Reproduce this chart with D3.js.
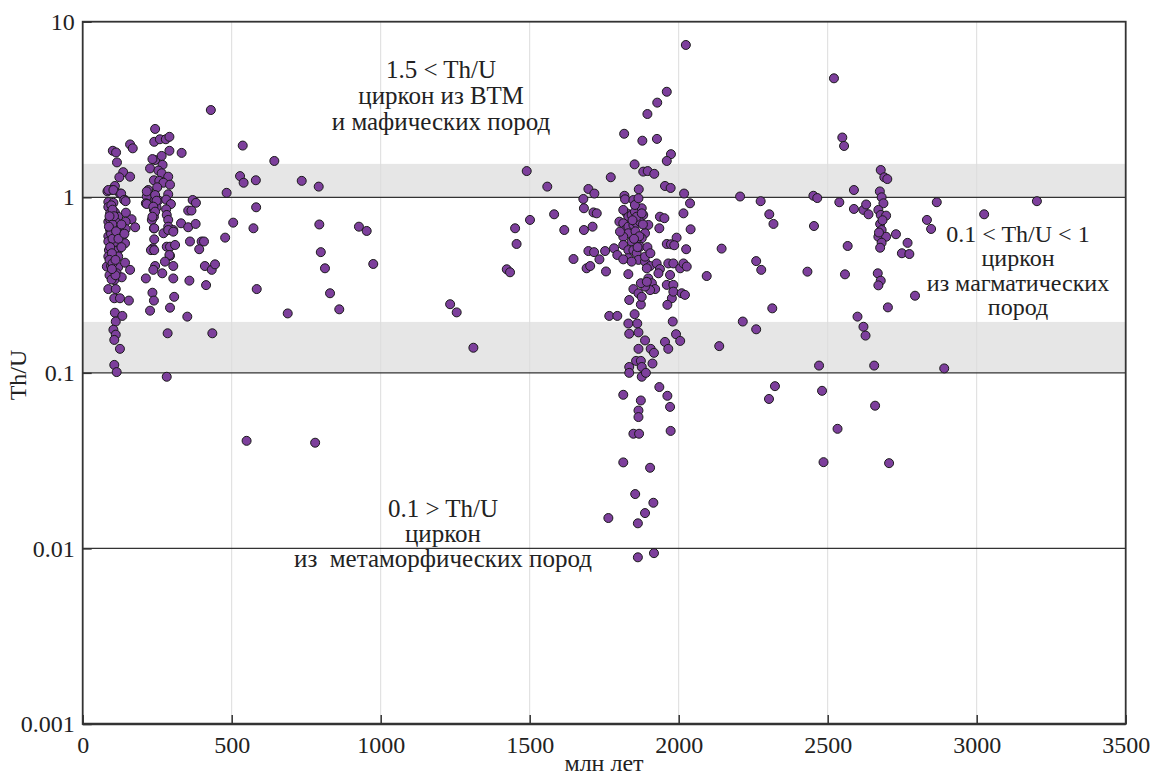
<!DOCTYPE html>
<html>
<head>
<meta charset="utf-8">
<title>Th/U vs age</title>
<style>
  body { margin: 0; background: #fff; }
  text { font-family: "Liberation Serif", "DejaVu Serif", serif; fill: #222; }
</style>
</head>
<body>
<svg width="1153" height="779"></svg>
<script src="https://cdn.jsdelivr.net/npm/d3@7"></script>
<script>
// ages (Ma) and Th/U, grouped by population
var pop100 = [[101,1.84],[112,1.80],[159,2.00],[168,1.90],[115,1.58],[136,1.39],[123,1.30],[159,1.31],[108,1.16],[97,1.10],[83,1.08],[125,1.05],[142,0.965],
  [86,1.10],[103,1.10],[129,1.05],[139,0.965],[144,0.95],[86,0.94],[103,0.93],[86,0.88],[92,0.81],[108,0.82],[119,0.775],[145,0.817],[164,0.75],[176,0.675],
  [144,0.726],[86,0.726],[114,0.717],[92,0.651],[117,0.651],[144,0.66],[86,0.60],[114,0.60],[136,0.61],[86,0.56],[106,0.547],[142,0.547],[88,0.50],[119,0.50],
  [106,0.497],[86,0.46],[119,0.46],[81,0.403],[95,0.406],[119,0.40],[142,0.424],[159,0.386],[114,0.369],[131,0.35],[106,0.338],[86,0.30],[111,0.30],[106,0.266],
  [125,0.266],[155,0.258],[108,0.22],[133,0.211],[111,0.196],[103,0.176],[111,0.165],[106,0.154],[125,0.137],[106,0.111],[114,0.101],
  [92,0.75],[100,0.70],[95,0.62],[100,0.58],[92,0.52],[98,0.48],[90,0.44],[100,0.42],[90,0.36],[97,0.34],[110,0.36],[88,0.68],[96,0.90],[100,0.85],[112,0.64],
  [105,0.78],[120,0.58],[130,0.52],[130,0.70],[140,0.62],[90,0.78],[110,0.44],[98,0.39]];

var pop250 = [[243,2.45],[240,2.07],[259,2.14],[279,2.14],[291,2.21],[291,1.84],[332,1.79],[243,1.63],[234,1.65],[265,1.72],[268,1.53],[226,1.46],[254,1.42],
  [265,1.37],[287,1.31],[239,1.25],[257,1.24],[271,1.21],[293,1.18],[250,1.14],[287,1.04],[220,1.10],[215,1.01],[212,0.924],[243,0.965],[254,0.96],[280,0.97],
  [296,0.915],[239,0.847],[248,0.875],[280,0.854],[282,0.793],[239,0.775],[232,0.743],[287,0.743],[287,0.68],[239,0.665],[304,0.651],[271,0.624],[240,0.576],
  [235,0.512],[282,0.523],[293,0.523],[310,0.535],[293,0.464],
  [215,1.08],[243,1.03],[248,0.956],[215,0.916],[237,0.884],[243,0.828],[234,0.775],[240,0.666],[287,0.651],[304,0.637],[330,0.711],[354,0.675],[379,0.705],
  [360,0.56],[229,0.50],[240,0.50],[291,0.469],[276,0.43],[243,0.406],[237,0.386],[267,0.369],[304,0.406],[212,0.345],[304,0.345],[358,0.335],[234,0.286],
  [239,0.258],[226,0.226],[307,0.271],[293,0.235],[351,0.209],[285,0.168],[282,0.095]];

var pop300to1000 = [[430,3.14],[537,1.97],[643,1.61],[528,1.32],[540,1.21],[581,1.25],[735,1.24],[792,1.15],[483,1.06],[369,0.965],[380,0.93],[582,0.877],
  [354,0.84],[365,0.84],[505,0.717],[794,0.70],[927,0.68],[953,0.643],[478,0.589],[573,0.666],[399,0.56],[407,0.56],[391,0.506],[799,0.487],[414,0.316],
  [410,0.406],[433,0.386],[444,0.415],[584,0.30],[813,0.394],[830,0.284],[861,0.23],[688,0.218],[435,0.168],[975,0.417],[550,0.041],[780,0.040]];

var pop1200to1800 = [[1233,0.246],[1255,0.221],[1311,0.139],[1423,0.389],[1434,0.374],[1451,0.666],[1456,0.542],[1501,0.743],[1490,1.41],[1559,1.15],
  [1582,0.80],[1616,0.651],[1647,0.445],[1682,0.651],[1711,0.68],[1680,0.978],[1682,0.866],[1697,1.115],[1717,1.05],[1714,0.82],[1725,0.81],[1697,0.494],
  [1716,0.487],[1734,0.443],[1691,0.394],[1703,0.406],[1756,0.378],[1753,0.494],[1783,0.512],[1772,1.30],[1767,0.211],[1794,0.211],[1794,0.469],[1764,0.0149]];

var pop1800to2100 = [[1814,0.075],[2024,7.37],[1960,3.99],[1928,3.46],[1895,2.98],[1817,2.30],[1878,2.10],[1927,2.15],[1974,1.76],[1960,1.61],[1852,1.54],
  [1881,1.40],[1896,1.41],[1918,1.36],[1954,1.16],[1973,1.13],[1866,1.11],[2018,1.05],[1818,1.02],[1820,0.974],[2038,0.924],[2016,0.81],[1937,0.775],[1952,0.76],
  [2040,0.657],[1935,0.666],[1993,0.589],[1960,0.542],[1974,0.54],[1985,0.533],[2025,0.506],[2094,0.356],[1831,0.365],[1977,0.266],
  [1834,0.26],[1873,0.245],[1962,0.244],[1852,0.216],[1831,0.191],[1861,0.191],[1834,0.167],[1865,0.17],[1980,0.196],[1887,0.153],[1954,0.15],[1991,0.166],
  [2005,0.152],[1865,0.137],[1906,0.137],[1917,0.13],[1965,0.137],[1857,0.117],[1873,0.117],[1912,0.113],[1834,0.108],[1876,0.108],[1834,0.10],[1876,0.095],
  [1890,0.10],[1935,0.083],[1962,0.074],[1873,0.0696],[1971,0.064],[1865,0.061],[1865,0.056],[1973,0.0467],[1848,0.045],[1867,0.045],[1814,0.0309],[1904,0.0288],
  [1854,0.0204],[1915,0.0182],[1887,0.0159],[1863,0.0139],[1917,0.0094],[1863,0.0089],
  [1826,0.81],[1831,0.775],[1842,0.793],[1853,0.828],[1876,0.866],[1881,0.793],[1801,0.726],[1814,0.711],[1820,0.651],[1831,0.68],[1848,0.696],[1859,0.711],
  [1870,0.726],[1898,0.696],[1887,0.624],[1876,0.584],[1859,0.571],[1842,0.56],[1831,0.624],[1814,0.596],[1803,0.637],[1814,0.535],[1831,0.50],[1848,0.50],
  [1859,0.48],[1870,0.523],[1865,0.44],[1831,0.45],[1814,0.443],[1842,0.43],[1887,0.43],[1904,0.406],[1926,0.42],[1937,0.39],[1893,0.394],[1932,0.369],
  [1965,0.42],[1982,0.42],[2005,0.394],[2016,0.42],[2027,0.403],[1971,0.361],[1898,0.345],[1910,0.324],[1921,0.30],[1904,0.296],[1887,0.31],[1960,0.317],
  [1982,0.317],[1982,0.29],[2010,0.284],[2021,0.278],[1848,0.30],[1865,0.284],[1876,0.271],[1848,0.965],[1853,0.904],[1865,0.987],[1873,0.324],[1893,0.33],
  [1887,0.459],[1814,0.847],[1859,0.775],[1876,0.81],[1855,0.64],[1845,0.74],[1868,0.60],[1880,0.70],[1862,0.52],[1850,0.58],[1895,0.52],[1905,0.48]];

var pop2100to3300 = [[2144,0.51],[2136,0.142],[2206,1.01],[2275,0.95],[2304,0.80],[2318,0.705],[2260,0.433],[2277,0.386],[2314,0.233],[2215,0.196],[2260,0.177],
  [2323,0.084],[2303,0.071],[2452,1.02],[2465,0.99],[2454,0.686],[2432,0.377],[2588,1.10],[2539,0.937],[2588,0.858],[2620,0.847],[2629,0.91],[2637,0.80],
  [2567,0.528],[2558,0.364],[2600,0.209],[2620,0.183],[2627,0.163],[2471,0.11],[2481,0.079],[2533,0.048],[2486,0.031],[2706,0.0306],[2656,0.11],[2891,0.106],
  [2521,4.76],[2549,2.19],[2555,1.96],[2678,1.43],[2690,1.30],[2700,1.27],[2675,1.08],[2681,1.0],[2687,0.924],[2670,0.847],[2678,0.793],[2696,0.786],
  [2676,0.705],[2681,0.651],[2670,0.596],[2696,0.596],[2681,0.551],[2676,0.516],[2684,0.74],[2672,0.63],[2866,0.937],[3202,0.95],[3025,0.80],[2833,0.743],
  [2847,0.66],[2729,0.616],[2768,0.55],[2749,0.48],[2774,0.475],[2793,0.275],[2702,0.236],[2668,0.369],[2678,0.335],[2670,0.315],[2659,0.065]];

var xTicks = [0, 500, 1000, 1500, 2000, 2500, 3000, 3500];
var yTicks = [0.001, 0.01, 0.1, 1, 10];
var yTickLabels = ["0.001", "0.01", "0.1", "1", "10"];
var refLines = [0.01, 0.1, 1];
var bands = [[0.1, 0.195], [1, 1.55]];

var svg = d3.select("svg");

var x = d3.scaleLinear().domain([0, 3500]).range([82.7, 1125.7]);
var y = d3.scaleLog().domain([0.001, 10]).range([724, 21.7]);

// shaded bands
svg.append("g").selectAll("rect")
  .data(bands)
  .enter().append("rect")
    .attr("x", x(0))
    .attr("width", x(3500) - x(0))
    .attr("y", function(d) { return y(d[1]); })
    .attr("height", function(d) { return y(d[0]) - y(d[1]); })
    .attr("fill", "#e6e6e6");

// vertical grid
svg.append("g").selectAll("line")
  .data(xTicks.slice(1, -1))
  .enter().append("line")
    .attr("x1", function(d) { return x(d); })
    .attr("x2", function(d) { return x(d); })
    .attr("y1", y(10))
    .attr("y2", y(0.001))
    .attr("stroke", "#dcdcdc")
    .attr("stroke-width", 1);

// horizontal reference lines
svg.append("g").selectAll("line")
  .data(refLines)
  .enter().append("line")
    .attr("x1", x(0))
    .attr("x2", x(3500))
    .attr("y1", function(d) { return y(d); })
    .attr("y2", function(d) { return y(d); })
    .attr("stroke", "#333")
    .attr("stroke-width", 1.2);

// points
var all = pop100.concat(pop250, pop300to1000, pop1200to1800, pop1800to2100, pop2100to3300);
svg.append("g").selectAll("circle")
  .data(all)
  .enter().append("circle")
    .attr("cx", function(d) { return x(d[0]); })
    .attr("cy", function(d) { return y(d[1]); })
    .attr("r", 4.5)
    .attr("fill", "#7d3f9c")
    .attr("stroke", "#1a1a1a")
    .attr("stroke-width", 1);

// annotations
function label(lines, cx, y0, step, size) {
  var t = svg.append("text")
    .attr("text-anchor", "middle")
    .attr("font-size", size);
  lines.forEach(function(s, i) {
    t.append("tspan").attr("x", cx).attr("y", y0 + i * step).text(s);
  });
}
label(["1.5 < Th/U", "циркон из ВТМ", "и мафических пород"], 441, 78, 26, 25);
label(["0.1 < Th/U < 1", "циркон", "из магматических", "пород"], 1018, 241.5, 24.5, 24);
label(["0.1 > Th/U", "циркон", "из\u00a0\u00a0метаморфических пород"], 443, 517, 25, 25);

// frame
svg.append("rect")
  .attr("x", x(0))
  .attr("y", y(10))
  .attr("width", x(3500) - x(0))
  .attr("height", y(0.001) - y(10))
  .attr("fill", "none")
  .attr("stroke", "#333")
  .attr("stroke-width", 1.8);
svg.append("line")
  .attr("x1", x(0)).attr("x2", x(3500))
  .attr("y1", y(0.001)).attr("y2", y(0.001))
  .attr("stroke", "#333").attr("stroke-width", 2.5);

// axes with inward ticks
var xAxis = svg.append("g")
  .attr("transform", "translate(0," + y(0.001) + ")")
  .call(d3.axisBottom(x).tickValues(xTicks).tickSize(-9).tickPadding(18).tickFormat(d3.format("d")));
var yAxis = svg.append("g")
  .attr("transform", "translate(" + x(0) + ",0)")
  .call(d3.axisLeft(y).tickValues(yTicks).tickSize(-9).tickPadding(18)
    .tickFormat(function(d, i) { return yTickLabels[i]; }));

[xAxis, yAxis].forEach(function(a) {
  a.select(".domain").remove();
  a.selectAll(".tick line").attr("stroke", "#333").attr("stroke-width", 1.5);
  a.selectAll(".tick text")
    .attr("font-family", "Liberation Serif, serif")
    .attr("font-size", 24)
    .attr("fill", "#222");
});
xAxis.selectAll(".tick text").attr("dy", "0.71em").attr("y", 12);
yAxis.selectAll(".tick text").attr("x", -8);

svg.append("text")
  .attr("x", 604)
  .attr("y", 771)
  .attr("text-anchor", "middle")
  .attr("font-size", 24)
  .text("млн лет");

svg.append("text")
  .attr("transform", "translate(26,375) rotate(-90)")
  .attr("text-anchor", "middle")
  .attr("font-size", 24)
  .text("Th/U");
</script>
</body>
</html>
